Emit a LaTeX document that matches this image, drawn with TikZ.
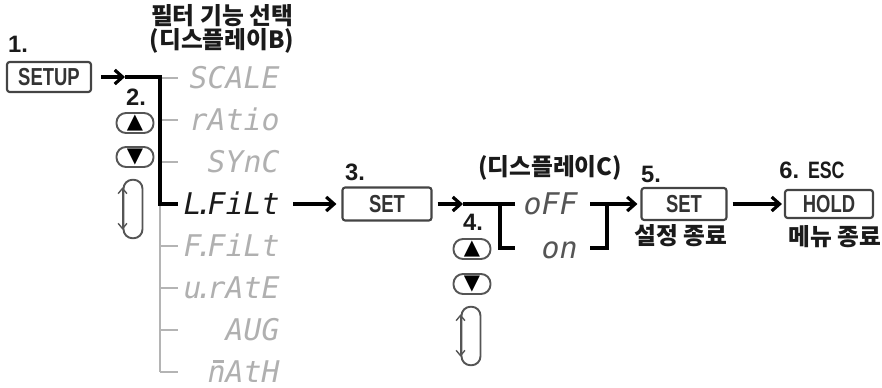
\documentclass[tikz,border=0pt]{standalone}
\usepackage{fontspec}
\setmainfont{Liberation Sans}
\newfontfamily\kr{Noto Sans CJK KR}
\newfontfamily\segf{DejaVu Sans Mono}
\newfontfamily\djf{DejaVu Sans}
\usetikzlibrary{arrows.meta}
\definecolor{treegray}{HTML}{B4B4B4}
\definecolor{seggray}{HTML}{B0B0B0}
\definecolor{boxgray}{HTML}{444444}
\definecolor{keytext}{HTML}{333333}
\definecolor{numcol}{HTML}{1A1A1A}
\definecolor{btngray}{HTML}{555555}
\definecolor{onoff}{HTML}{555555}
\newcommand\keytxt[1]{\scalebox{0.75}[1]{#1}}
\newcommand\sd{\kern-0.2em.\kern-0.2em}
\newcommand\mbar{\makebox[0pt][l]{\kern0.17em\raisebox{0.68em}{\rule{0.36em}{0.075em}}}n}
\tikzset{
  blk/.style={line width=1.8pt, draw=black},
  arr/.style={blk, -{Straight Barb[length=4.5pt,width=8pt]}},
  graytree/.style={line width=1.1pt, draw=treegray},
  keybox/.style={draw=boxgray, line width=1.2pt, rounded corners=1.5pt, inner sep=0pt,
    font=\bfseries\fontsize{14}{14}\selectfont, text=keytext},
  num/.style={font=\bfseries\fontsize{13.5}{13}\selectfont, text=numcol, inner sep=0pt},
  krtext/.style={font=\kr\bfseries\fontsize{13.5}{15}\selectfont, inner sep=0pt, text=numcol},
  seg/.style={font=\segf\itshape\fontsize{17}{17}\selectfont, text=seggray, anchor=east,
    inner sep=0pt, text height=12.4pt, text depth=0pt},
  btn/.style={draw=btngray, line width=1.1pt, rounded corners=0.19cm, minimum width=0.74cm,
    minimum height=0.4cm, inner sep=0pt, font=\djf\fontsize{12}{12}\selectfont},
  loopbox/.style={draw=btngray, line width=1.1pt, rounded corners=0.18cm, minimum width=0.38cm,
    minimum height=1.17cm, inner sep=0pt},
  dbl/.style={line width=0.8pt, draw=btngray,
    {Straight Barb[length=3pt,width=5pt]}-{Straight Barb[length=3pt,width=5pt]}}
}
\begin{document}
\begin{tikzpicture}[x=0.02cm,y=-0.02cm]
\useasboundingbox (0,0) rectangle (882,388);

% header
\node[krtext] (hdr1) at (222,16) {필터 기능 선택};
\node[krtext] (hdr2) at (222,41) {(디스플레이B)};

% step 1
\node[num] (n1) at (18,44) {1.};
\node[keybox, minimum width=1.68cm, minimum height=0.6cm] (setup) at (49,77) {\keytxt{SETUP}};

% gray tree
\draw[graytree] (160,77) -- (160,372);
\foreach \yy in {78,120,162,246,288,330,372} {
  \draw[graytree] (160,\yy) -- (178,\yy);
}
\node[seg] (scale) at (280,78) {SCALE};
\node[seg] (ratio) at (280,120) {rAtio};
\node[seg] (sync) at (280,162) {SYnC};
\node[seg, text=numcol] (lfilt) at (280,204) {L\sd FiLt};
\node[seg] (ffilt) at (280,246) {F\sd FiLt};
\node[seg] (urate) at (280,288) {u\sd rAtE};
\node[seg] (avg) at (280,330) {AUG};
\node[seg] (math) at (280,372) {\mbar AtH};

% black path from SETUP
\coordinate (a1) at (125,77);
\coordinate (c1) at (160,77);
\coordinate (lfb) at (178,204);
\draw[arr] ([xshift=0.18cm]setup.east) -- (a1);
\draw[blk] (a1) -- (c1) |- (lfb);

% step 2 keys
\node[num] (n2) at (136,97) {2.};
\node[btn] (up1) at (135,123) {▲};
\node[btn] (dn1) at (135,157) {▼};
\node[loopbox] (loop1) at (133,209) {};
\draw[dbl] ([yshift=-0.17cm]loop1.north west) -- ([yshift=0.19cm]loop1.south west);

% step 3
\node[num] (n3) at (355,172) {3.};
\node[keybox, minimum width=1.78cm, minimum height=0.66cm] (set3) at (387,204) {\keytxt{SET}};
\draw[arr] ([xshift=0.26cm]lfilt.east) -- ([xshift=-0.1cm]set3.west);

% display C
\node[krtext] (hdrc) at (550,168) {(디스플레이C)};
\node[seg, text=onoff] (off) at (578,204) {oFF};
\node[seg, text=onoff] (on) at (578,248) {on};

\coordinate (a3) at (463,204);
\coordinate (b1) at (500,204);
\coordinate (b2) at (515,204);
\coordinate (b3) at (515,248);
\draw[arr] ([xshift=0.1cm]set3.east) -- (a3);
\draw[blk] (a3) -- (b1);
\draw[blk] (b2) -- (b1) |- (b3);

\coordinate (r1) at (590,204);
\coordinate (r2) at (607,204);
\coordinate (r3) at (590,248);
\draw[blk] (r3) -| (r2) -- (r1);

% step 4 keys
\node[num] (n4) at (473,222) {4.};
\node[btn] (up2) at (472,249) {▲};
\node[btn] (dn2) at (472,284) {▼};
\node[loopbox] (loop2) at (471,336) {};
\draw[dbl] ([yshift=-0.17cm]loop2.north west) -- ([yshift=0.19cm]loop2.south west);

% step 5
\node[num] (n5) at (651,174) {5.};
\node[keybox, minimum width=1.7cm, minimum height=0.64cm] (set5) at (684,204) {\keytxt{SET}};
\draw[arr] (r2) -- ([xshift=-0.06cm]set5.west);
\node[krtext] (lbl5) at (681,236) {설정 종료};

% step 6
\node[num] (n6) at (812,170) {6.\hspace{5pt}\keytxt{ESC}};
\node[keybox, minimum width=1.76cm, minimum height=0.56cm] (hold) at (829,204) {\keytxt{HOLD}};
\draw[arr] ([xshift=0.1cm]set5.east) -- ([xshift=-0.04cm]hold.west);
\node[krtext] (lbl6) at (835,237) {메뉴 종료};
\end{tikzpicture}
\end{document}
